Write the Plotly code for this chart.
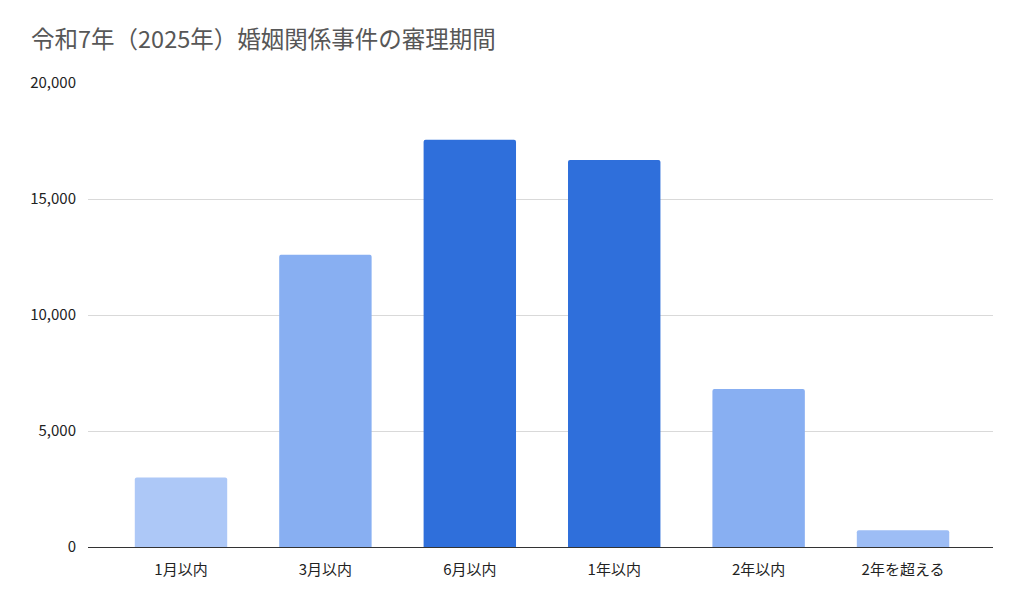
import plotly.graph_objects as go

categories = ["1月以内", "3月以内", "6月以内", "1年以内", "2年以内", "2年を超える"]
cases = [3000, 12600, 17550, 16680, 6810, 725]
tick_vals = [0, 5000, 10000, 15000, 20000]
tick_text = ["0", "5,000", "10,000", "15,000", "20,000"]
title_text = "令和7年（2025年）婚姻関係事件の審理期間"

bar_colors = ["#adc8f7", "#88aff2", "#2f6fdb", "#2f6fdb", "#88aff2", "#9dbdf5"]

FONT = "Noto Sans CJK JP"

fig = go.Figure(
    go.Bar(
        x=list(range(len(categories))),
        y=cases,
        marker=dict(color=bar_colors, line=dict(width=0)),
        width=0.64,
        hovertext=categories,
    )
)

fig.update_layout(
    width=1024,
    height=615,
    margin=dict(l=80, r=39, t=75, b=76),
    paper_bgcolor="white",
    plot_bgcolor="white",
    barcornerradius=2,
    showlegend=False,
    font=dict(family=FONT, size=15, color="#333333"),
    title=dict(
        text=title_text,
        x=23 / 1024,
        xanchor="left",
        y=1 - 32 / 615,
        yanchor="middle",
        font=dict(family=FONT, size=23.5, color="#575757"),
    ),
    xaxis=dict(
        tickmode="array",
        tickvals=list(range(len(categories))),
        ticktext=categories,
        range=[-0.644, 5.623],
        showgrid=False,
        showline=False,
        zeroline=False,
        ticks="",
        ticklabelstandoff=12,
        tickfont=dict(family=FONT, size=15, color="#222222"),
        fixedrange=True,
    ),
    yaxis=dict(
        range=[0, 20000],
        tickmode="array",
        tickvals=tick_vals,
        ticktext=tick_text,
        showgrid=True,
        gridcolor="#d9d9d9",
        gridwidth=1,
        zeroline=True,
        zerolinecolor="#333333",
        zerolinewidth=1.2,
        ticks="",
        ticklabelstandoff=11,
        tickfont=dict(family=FONT, size=15, color="#222222"),
        fixedrange=True,
    ),
)

fig.write_html("out.html")
